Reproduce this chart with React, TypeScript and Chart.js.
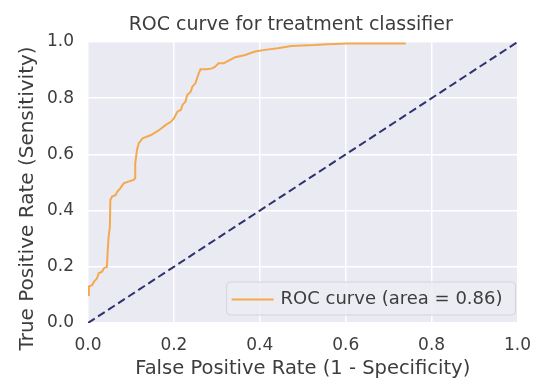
import React, { useEffect, useRef } from 'react';
import { Chart, registerables } from 'chart.js';

Chart.register(...registerables);

// ROC curve (false positive rate, true positive rate) as visible in the reference
const fprValues = [
  0, 0.002, 0.01, 0.014, 0.021, 0.025, 0.033, 0.037, 0.044, 0.046, 0.048, 0.051,
  0.052, 0.056, 0.064, 0.068, 0.075, 0.083, 0.094, 0.106, 0.11, 0.11, 0.114, 0.118,
  0.127, 0.147, 0.166, 0.181, 0.193, 0.2, 0.208, 0.216, 0.22, 0.227, 0.231, 0.239,
  0.243, 0.25, 0.258, 0.262, 0.277, 0.289, 0.296, 0.304, 0.316, 0.323, 0.343, 0.366,
  0.389, 0.412, 0.442, 0.473, 0.527, 0.558, 0.604, 0.74,
];
const tprValues = [
  0.1, 0.13, 0.135, 0.147, 0.159, 0.177, 0.183, 0.195, 0.2, 0.26, 0.307, 0.343,
  0.438, 0.45, 0.455, 0.467, 0.479, 0.497, 0.503, 0.509, 0.515, 0.568, 0.616, 0.639,
  0.657, 0.669, 0.687, 0.705, 0.716, 0.728, 0.752, 0.758, 0.776, 0.788, 0.811, 0.823,
  0.841, 0.853, 0.889, 0.903, 0.903, 0.906, 0.912, 0.924, 0.924, 0.93, 0.946, 0.954,
  0.966, 0.972, 0.978, 0.986, 0.989, 0.992, 0.995, 0.995,
];

// Chance diagonal
const chanceX = [0, 1];
const chanceY = [0, 1];

const tickValues = [0, 0.2, 0.4, 0.6, 0.8, 1.0];

const chartTitle = 'ROC curve for treatment classifier';
const xAxisTitle = 'False Positive Rate (1 - Specificity)';
const yAxisTitle = 'True Positive Rate (Sensitivity)';
const rocLabel = 'ROC curve (area = 0.86)';

const FONT = "'DejaVu Sans', sans-serif";
const TEXT_COLOR = '#3d3d3d';
const BG = '#EAEAF2';
const ORANGE = '#f4a84f';
const NAVY = '#2e3270';

const decorPlugin = {
  id: 'decor',
  beforeDraw(chart: any) {
    const { ctx, chartArea: ca } = chart;
    ctx.save();
    ctx.fillStyle = BG;
    ctx.fillRect(ca.left, ca.top, ca.right - ca.left, ca.bottom - ca.top);
    ctx.restore();
  },
  afterDraw(chart: any) {
    const { ctx, chartArea: ca } = chart;
    ctx.save();
    // Title
    ctx.fillStyle = TEXT_COLOR;
    ctx.font = `19px ${FONT}`;
    ctx.textAlign = 'center';
    ctx.textBaseline = 'middle';
    ctx.fillText(chartTitle, (ca.left + ca.right) / 2 - 12, ca.top - 17);

    // Y axis title
    ctx.save();
    ctx.font = `20px ${FONT}`;
    ctx.translate(28, (ca.top + ca.bottom) / 2 + 16);
    ctx.rotate(-Math.PI / 2);
    ctx.fillText(yAxisTitle, 0, 0);
    ctx.restore();

    // Legend
    const ds = chart.data.datasets[0];
    ctx.font = `18px ${FONT}`;
    const tw = ctx.measureText(ds.label).width;
    const boxRight = ca.right - 2;
    const boxBottom = ca.bottom - 8;
    const boxH = 33;
    const boxTop = boxBottom - boxH;
    const textRight = boxRight - 13;
    const textLeft = textRight - tw;
    const handleRight = textLeft - 7;
    const handleLeft = handleRight - 42;
    const boxLeft = handleLeft - 5;
    const r = 4;
    ctx.beginPath();
    ctx.moveTo(boxLeft + r, boxTop);
    ctx.lineTo(boxRight - r, boxTop);
    ctx.quadraticCurveTo(boxRight, boxTop, boxRight, boxTop + r);
    ctx.lineTo(boxRight, boxBottom - r);
    ctx.quadraticCurveTo(boxRight, boxBottom, boxRight - r, boxBottom);
    ctx.lineTo(boxLeft + r, boxBottom);
    ctx.quadraticCurveTo(boxLeft, boxBottom, boxLeft, boxBottom - r);
    ctx.lineTo(boxLeft, boxTop + r);
    ctx.quadraticCurveTo(boxLeft, boxTop, boxLeft + r, boxTop);
    ctx.closePath();
    ctx.fillStyle = 'rgba(236,236,243,0.85)';
    ctx.fill();
    ctx.strokeStyle = 'rgba(210,210,215,0.9)';
    ctx.lineWidth = 1;
    ctx.stroke();
    const cy = boxTop + boxH / 2 + 1;
    ctx.beginPath();
    ctx.moveTo(handleLeft, cy);
    ctx.lineTo(handleRight, cy);
    ctx.strokeStyle = ds.borderColor;
    ctx.lineWidth = ds.borderWidth;
    ctx.stroke();
    ctx.fillStyle = TEXT_COLOR;
    ctx.textAlign = 'left';
    ctx.textBaseline = 'middle';
    ctx.fillText(ds.label, textLeft, cy);
    ctx.restore();
  },
};

export default function App() {
  const canvasRef = useRef<HTMLCanvasElement | null>(null);

  useEffect(() => {
    if (!canvasRef.current) return;
    const rocPoints = fprValues.map((x, i) => ({ x, y: tprValues[i] }));
    const chancePoints = chanceX.map((x, i) => ({ x, y: chanceY[i] }));
    const tickCb = (v: any) => Number(v).toFixed(1);
    const chart = new Chart(canvasRef.current, {
      type: 'scatter',
      data: {
        datasets: [
          {
            label: rocLabel,
            data: rocPoints,
            showLine: true,
            borderColor: ORANGE,
            backgroundColor: ORANGE,
            borderWidth: 2,
            pointRadius: 0,
            tension: 0,
            clip: 0,
          },
          {
            label: 'chance',
            data: chancePoints,
            showLine: true,
            borderColor: NAVY,
            backgroundColor: NAVY,
            borderWidth: 2,
            borderDash: [8, 4],
            pointRadius: 0,
            clip: 0,
          },
        ],
      },
      plugins: [decorPlugin],
      options: {
        animation: false,
        responsive: false,
        devicePixelRatio: 1,
        layout: { padding: { top: 42, right: 21, left: 0, bottom: 0 } },
        plugins: {
          legend: { display: false },
          title: { display: false },
          tooltip: { enabled: false },
        },
        scales: {
          x: {
            type: 'linear',
            min: 0,
            max: 1,
            afterBuildTicks: (s: any) => {
              s.ticks = tickValues.map((value) => ({ value }));
            },
            afterFit: (s: any) => {
              s.height = 58;
            },
            ticks: {
              callback: tickCb,
              font: { family: FONT, size: 17 },
              color: TEXT_COLOR,
              padding: 12,
              maxRotation: 0,
            },
            grid: { color: '#ffffff', lineWidth: 1.5, drawTicks: false },
            border: { display: false },
            title: {
              display: true,
              text: xAxisTitle,
              font: { family: FONT, size: 19.5 },
              color: TEXT_COLOR,
              padding: { top: 0, bottom: 0 },
            },
          },
          y: {
            type: 'linear',
            min: 0,
            max: 1,
            afterBuildTicks: (s: any) => {
              s.ticks = tickValues.map((value) => ({ value }));
            },
            afterFit: (s: any) => {
              s.width = 88;
            },
            ticks: {
              callback: tickCb,
              font: { family: FONT, size: 17 },
              color: TEXT_COLOR,
              padding: 14,
            },
            grid: { color: '#ffffff', lineWidth: 1.5, drawTicks: false },
            border: { display: false },
            title: { display: false },
          },
        },
      },
    });
    return () => chart.destroy();
  }, []);

  return (
    <div style={{ position: 'absolute', left: 0, top: 0, width: 543, height: 381 }}>
      <canvas ref={canvasRef} width={543} height={381} style={{ display: 'block' }} />
    </div>
  );
}
